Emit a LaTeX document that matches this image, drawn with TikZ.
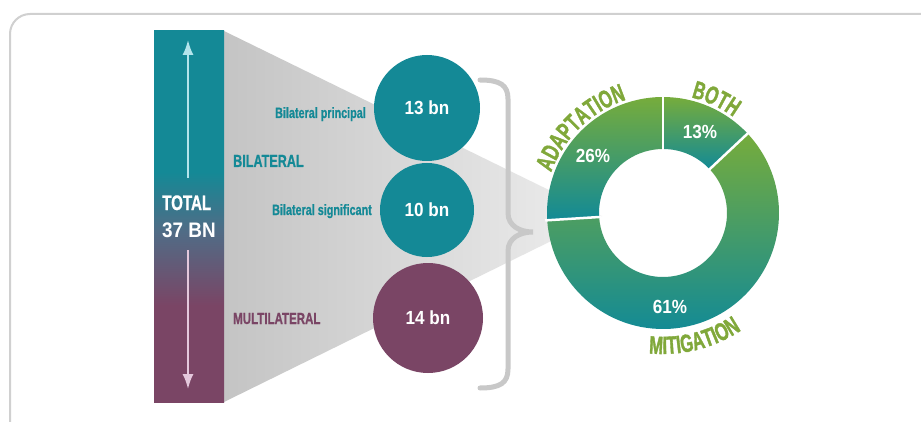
\documentclass[tikz,border=0pt]{standalone}
\usepackage{fontspec}
\newfontfamily\cnd[FakeStretch=0.72,BoldFeatures={FakeBold=0.8}]{Liberation Sans}
\newfontfamily\cndn[FakeStretch=0.9]{Liberation Sans}
\newfontfamily\cndl[FakeStretch=0.66,BoldFeatures={FakeBold=1.4}]{Liberation Sans}
\usetikzlibrary{decorations.text, arrows.meta, shapes.geometric}
\definecolor{cteal}{RGB}{20,137,150}
\definecolor{cpurp}{RGB}{122,69,101}
\definecolor{cmid}{RGB}{80,108,134}
\definecolor{cgreen}{RGB}{118,172,60}
\definecolor{cteal2}{RGB}{18,138,150}
\definecolor{clbl}{RGB}{128,168,58}
\definecolor{upc}{RGB}{180,228,235}
\definecolor{dnc}{RGB}{228,200,220}
\definecolor{gA}{RGB}{196,196,196}
\definecolor{gB}{RGB}{238,238,238}
\definecolor{framegray}{RGB}{208,208,208}
\definecolor{bracegray}{RGB}{200,200,200}
\pgfdeclareverticalshading{barshade}{100bp}{color(0bp)=(cpurp); color(38bp)=(cpurp); color(48bp)=(cmid); color(56bp)=(cteal); color(100bp)=(cteal)}
\newcommand\lblfont{\color{clbl}\cndl\bfseries\fontsize{25}{25}\selectfont}
\begin{document}
\begin{tikzpicture}[x=1pt,y=1pt,
  numtxt/.style={text=white, font=\cndn\bfseries\fontsize{19}{19}\selectfont},
  disc/.style={circle, inner sep=0pt, draw=none},
  smalllbl/.style={text=cteal, font=\cnd\bfseries\fontsize{15}{15}\selectfont, inner sep=0pt},
  biglbl/.style={font=\cnd\bfseries\fontsize{17.5}{17.5}\selectfont, inner sep=0pt},
  totlbl/.style={text=white, inner sep=0pt, anchor=base west},
  sep/.style={white, line width=2.5pt},
  barrow/.style={line width=1.8pt, -{Latex[length=15pt,width=11pt]}}]
\useasboundingbox (0,0) rectangle (921,421);
\fill[white] (0,0) rectangle (921,421);
% frame
\draw[framegray, line width=2pt, rounded corners=20pt] (10,-20) -- (10,407) -- (940,407);
% funnel
\shade[left color=gA, right color=gB] (224,390) -- (602,205) -- (224,19) -- cycle;
% bar
\shade[shading=barshade] (154,19) rectangle (224,390);
\coordinate (upS) at (188,243);
\coordinate (upE) at (188,381);
\coordinate (dnS) at (188,171);
\coordinate (dnE) at (188,32);
\draw[upc, barrow] (upS) -- (upE);
\draw[dnc, barrow] (dnS) -- (dnE);
\node[totlbl, font=\cnd\bfseries\fontsize{21}{21}\selectfont] (tot) at (162,211) {TOTAL};
\node[totlbl, font=\cndn\bfseries\fontsize{21}{21}\selectfont] (bn) at (162,184) {37 BN};
% circles
\node[disc, fill=cteal, minimum size=106pt, numtxt] (c13) at (427,313) {13 bn};
\node[disc, fill=cteal, minimum size=94pt, numtxt] (c10) at (427,211) {10 bn};
\node[disc, fill=cpurp, minimum size=110pt, numtxt] (c14) at (428,103) {14 bn};
% labels
\node[smalllbl, anchor=base east] (bp) at (366,303) {Bilateral principal};
\node[biglbl, text=cteal, anchor=base west] (bil) at (233,254) {BILATERAL};
\node[smalllbl, anchor=base east] (bs) at (372,206) {Bilateral significant};
\node[biglbl, text=cpurp, anchor=base west, font=\cnd\bfseries\fontsize{16}{16}\selectfont] (mul) at (233,97) {MULTILATERAL};
% brace
\draw[bracegray, line width=5pt, line cap=round] (480,341) .. controls (500,341) and (508,336) .. (508,322) -- (508,208) .. controls (508,195) and (520,189) .. (533,189) .. controls (520,189) and (508,183) .. (508,170) -- (508,52) .. controls (508,38) and (500,33) .. (480,33);
% donut
\begin{scope}[shift={(663,208)}]
\shade[top color=cgreen, bottom color=cteal2] (43.2:116) arc[start angle=43.2, end angle=90, radius=116] -- (90:64) arc[start angle=90, end angle=43.2, radius=64] -- cycle;
\shade[top color=cgreen, bottom color=cteal2] (90:116) arc[start angle=90, end angle=183.6, radius=116] -- (183.6:64) arc[start angle=183.6, end angle=90, radius=64] -- cycle;
\shade[top color=cgreen, bottom color=cteal2] (183.6:116) arc[start angle=183.6, end angle=403.2, radius=116] -- (403.2:64) arc[start angle=403.2, end angle=183.6, radius=64] -- cycle;
\draw[sep] (90:62) -- (90:118);
\draw[sep] (43.2:62) -- (43.2:118);
\draw[sep] (183.6:62) -- (183.6:118);
\node[numtxt] (p13) at (37,81) {13\%};
\node[numtxt] (p26) at (-70,57) {26\%};
\node[numtxt] (p61) at (7,-94) {61\%};
\path[decorate, decoration={text along path, text align=center, text={|\lblfont|ADAPTATION}}] (170:119) arc[start angle=170, end angle=98, radius=119];
\path[decorate, decoration={text along path, text align=center, text={|\lblfont|BOTH}}] (84:119) arc[start angle=84, end angle=46, radius=119];
\path[decorate, decoration={text along path, text align=center, text={|\lblfont|MITIGATION}}] (250:141) arc[start angle=250, end angle=318, radius=141];
\end{scope}
\end{tikzpicture}
\end{document}
